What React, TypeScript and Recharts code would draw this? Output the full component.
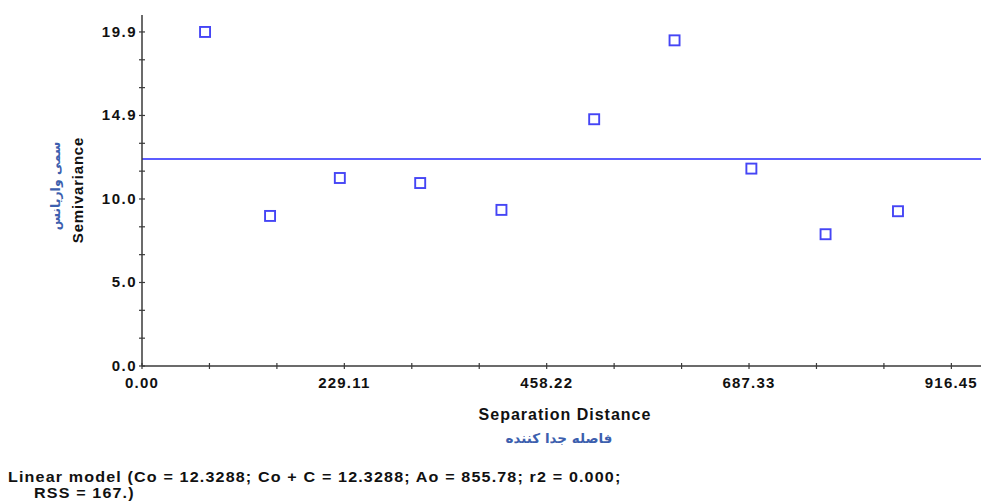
import React from 'react';
import { ScatterChart, Scatter, XAxis, YAxis, ReferenceLine } from 'recharts';

const distances = [71.4, 145, 224, 315, 407, 512, 603, 690, 774, 856];
const semivariance = [19.9, 8.94, 11.2, 10.9, 9.3, 14.7, 19.4, 11.76, 7.85, 9.22];
const nuggetCo = 12.3288;

const xTicks = [0, 76.37, 152.74, 229.11, 305.48, 381.85, 458.22, 534.59, 610.96, 687.33, 763.7, 840.07, 916.45];
const xTickLabels = ['0.00', '', '', '229.11', '', '', '458.22', '', '', '687.33', '', '', '916.45'];
const yTicks = [0, 1.658, 3.317, 4.975, 6.633, 8.292, 9.95, 11.608, 13.267, 14.925, 16.583, 18.242, 19.9];
const yTickLabels = ['0.0', '', '', '5.0', '', '', '10.0', '', '', '14.9', '', '', '19.9'];

const xLabel = 'Separation Distance';
const xLabelFa = 'فاصله جدا کننده';
const yLabel = 'Semivariance';
const yLabelFa = 'سمی واریانس';
const modelLine1 = 'Linear model (Co = 12.3288; Co + C = 12.3288; Ao = 855.78; r2 = 0.000;';
const modelLine2 = 'RSS = 167.)';

const data = distances.map((d, i) => ({ x: d, y: semivariance[i] }));

const AXIS = '#3a3a3a';
const BLUE = '#4545f5';
const FA_BLUE = '#3d5fae';
const TICK_FONT = '"Liberation Sans", Arial, sans-serif';

const XTick = (props: any) => {
  const { x, y, index } = props;
  const label = xTickLabels[index] ?? '';
  return (
    <g>
      <line x1={x} x2={x} y1={y - 3} y2={y + 3} stroke={AXIS} strokeWidth={1.2} />
      {label && (
        <text x={x} y={y + 22} textAnchor="middle" fontFamily={TICK_FONT} fontWeight="bold" fontSize={15} letterSpacing={1.2} fill="#111">
          {label}
        </text>
      )}
    </g>
  );
};

const YTick = (props: any) => {
  const { x, y, index } = props;
  const label = yTickLabels[index] ?? '';
  return (
    <g>
      <line x1={x - 3} x2={x + 3} y1={y} y2={y} stroke={AXIS} strokeWidth={1.2} />
      {label && (
        <text x={x - 5} y={y + 5} textAnchor="end" fontFamily={TICK_FONT} fontWeight="bold" fontSize={15} letterSpacing={1.5} fill="#111">
          {label}
        </text>
      )}
    </g>
  );
};

const SquareShape = (props: any) => {
  const { cx, cy } = props;
  if (cx == null || cy == null) return null;
  return <rect x={cx - 5} y={cy - 5} width={10} height={10} fill="#fff" stroke={BLUE} strokeWidth={1.9} />;
};

export default function App() {
  return (
    <div style={{ position: 'absolute', left: 0, top: 0, width: 981, height: 504, background: '#fff' }}>
      <ScatterChart width={981} height={504} margin={{ top: 15, right: 0, bottom: 0, left: 0 }}>
        <XAxis
          type="number"
          dataKey="x"
          domain={[0, 950]}
          ticks={xTicks}
          interval={0}
          height={138}
          tickSize={0}
          tickMargin={0}
          tickLine={false}
          axisLine={{ stroke: AXIS, strokeWidth: 1.5 }}
          tick={<XTick />}
          allowDataOverflow
        />
        <YAxis
          type="number"
          dataKey="y"
          domain={[0, 20.91]}
          ticks={yTicks}
          interval={0}
          width={142}
          tickSize={0}
          tickMargin={0}
          tickLine={false}
          axisLine={{ stroke: AXIS, strokeWidth: 1.5 }}
          tick={<YTick />}
          allowDataOverflow
        />
        <ReferenceLine y={nuggetCo} stroke="#5c5cff" strokeWidth={2} />
        <Scatter data={data} shape={<SquareShape />} isAnimationActive={false} />
      </ScatterChart>
      <svg width={981} height={504} style={{ position: 'absolute', left: 0, top: 0, pointerEvents: 'none' }}>
        <text x={565} y={420} textAnchor="middle" fontFamily={TICK_FONT} fontWeight="bold" fontSize={16} letterSpacing={1} fill="#111">
          {xLabel}
        </text>
        <text x={559} y={443} textAnchor="middle" fontFamily='"DejaVu Sans", sans-serif' fontWeight="bold" fontSize={13.5} fill={FA_BLUE} direction="rtl">
          {xLabelFa}
        </text>
        <text x={83} y={190} transform="rotate(-90 83 190)" textAnchor="middle" fontFamily={TICK_FONT} fontWeight="bold" fontSize={15} letterSpacing={0.8} fill="#111">
          {yLabel}
        </text>
        <text x={60} y={186} transform="rotate(-90 60 186)" textAnchor="middle" fontFamily='"DejaVu Sans", sans-serif' fontWeight="bold" fontSize={12.5} fill={FA_BLUE} direction="rtl">
          {yLabelFa}
        </text>
        <text transform="translate(8 482) scale(1.15 1)" x={0} y={0} fontFamily={TICK_FONT} fontWeight="bold" fontSize={14} letterSpacing={1} fill="#111">
          {modelLine1}
        </text>
        <text transform="translate(34 498) scale(1.15 1)" x={0} y={0} fontFamily={TICK_FONT} fontWeight="bold" fontSize={14} letterSpacing={1} fill="#111">
          {modelLine2}
        </text>
      </svg>
    </div>
  );
}
